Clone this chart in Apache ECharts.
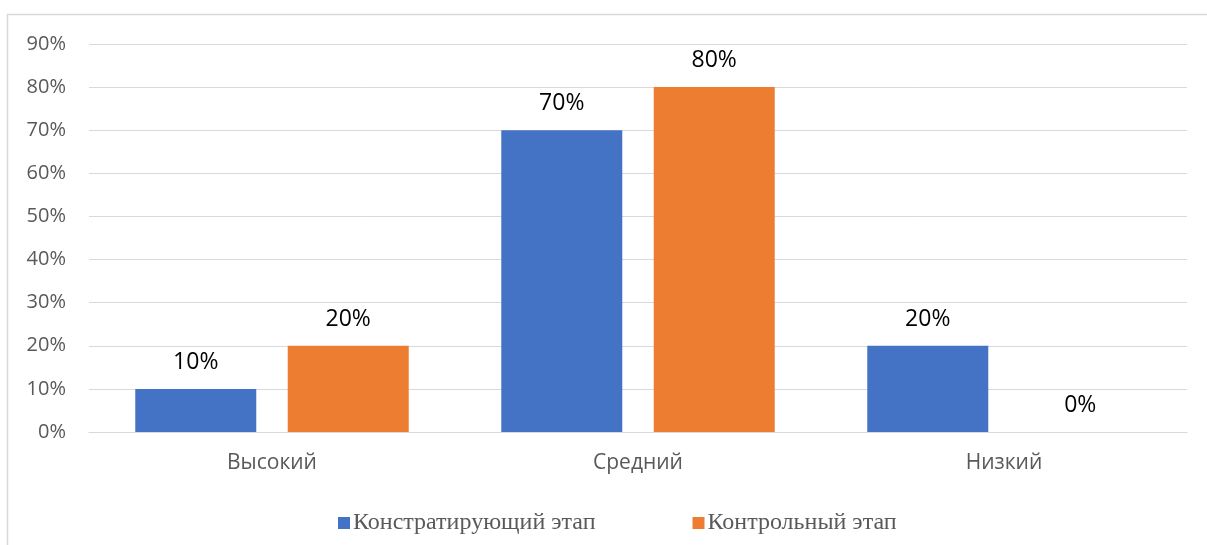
<!DOCTYPE html>
<html lang="ru">
<head>
    <meta charset="UTF-8">
    <title>Уровни</title>
    <script src="https://cdn.jsdelivr.net/npm/echarts@6/dist/echarts.min.js"></script>
    <style>
        html, body { margin: 0; padding: 0; background: #fff; }
        #chart { width: 1207px; height: 545px; }
    </style>
</head>
<body>
    <div id="chart"></div>
    <script>
        var categories = ['Высокий', 'Средний', 'Низкий'];
        var seriesNames = ['Констратирующий этап', 'Контрольный этап'];
        var stage1 = [10, 70, 20];
        var stage2 = [20, 80, 0];
        var colors = ['#4472C4', '#ED7D31'];

        var labelFont = 'Open Sans, Noto Sans, sans-serif';

        function barSeries(name, data, color) {
            return {
                name: name,
                type: 'bar',
                data: data,
                barWidth: 121,
                barGap: '26%',
                itemStyle: { color: color },
                label: {
                    show: true,
                    position: 'top',
                    distance: 15,
                    formatter: '{c}%',
                    color: '#000',
                    fontSize: 23,
                    fontFamily: labelFont
                }
            };
        }

        var chart = echarts.init(document.getElementById('chart'));
        chart.setOption({
            animation: false,
            color: colors,
            graphic: [{
                type: 'rect',
                shape: { x: 7.5, y: 14.5, width: 1400, height: 700 },
                style: { fill: 'none', stroke: '#d9d9d9', lineWidth: 1.5 },
                silent: true
            }],
            grid: { left: 89, right: 20, top: 44, bottom: 113 },
            legend: {
                top: 506,
                left: 333,
                itemWidth: 12,
                itemHeight: 12,
                itemGap: 97,
                icon: 'rect',
                textStyle: {
                    fontFamily: 'Liberation Serif, serif',
                    fontSize: 24,
                    color: '#595959',
                    padding: [0, 0, 0, -2]
                },
                data: seriesNames
            },
            xAxis: {
                type: 'category',
                data: categories,
                axisLine: { lineStyle: { color: '#d9d9d9', width: 1 } },
                axisTick: { show: false },
                axisLabel: {
                    margin: 21,
                    fontSize: 21,
                    color: '#595959',
                    fontFamily: labelFont
                }
            },
            yAxis: {
                type: 'value',
                min: 0,
                max: 90,
                interval: 10,
                axisLine: { show: false },
                axisTick: { show: false },
                axisLabel: {
                    margin: 23,
                    fontSize: 20,
                    color: '#595959',
                    fontFamily: labelFont,
                    formatter: '{value}%'
                },
                splitLine: { lineStyle: { color: '#d9d9d9', width: 1 } }
            },
            series: [
                barSeries(seriesNames[0], stage1, colors[0]),
                barSeries(seriesNames[1], stage2, colors[1])
            ]
        });
    </script>
</body>
</html>
